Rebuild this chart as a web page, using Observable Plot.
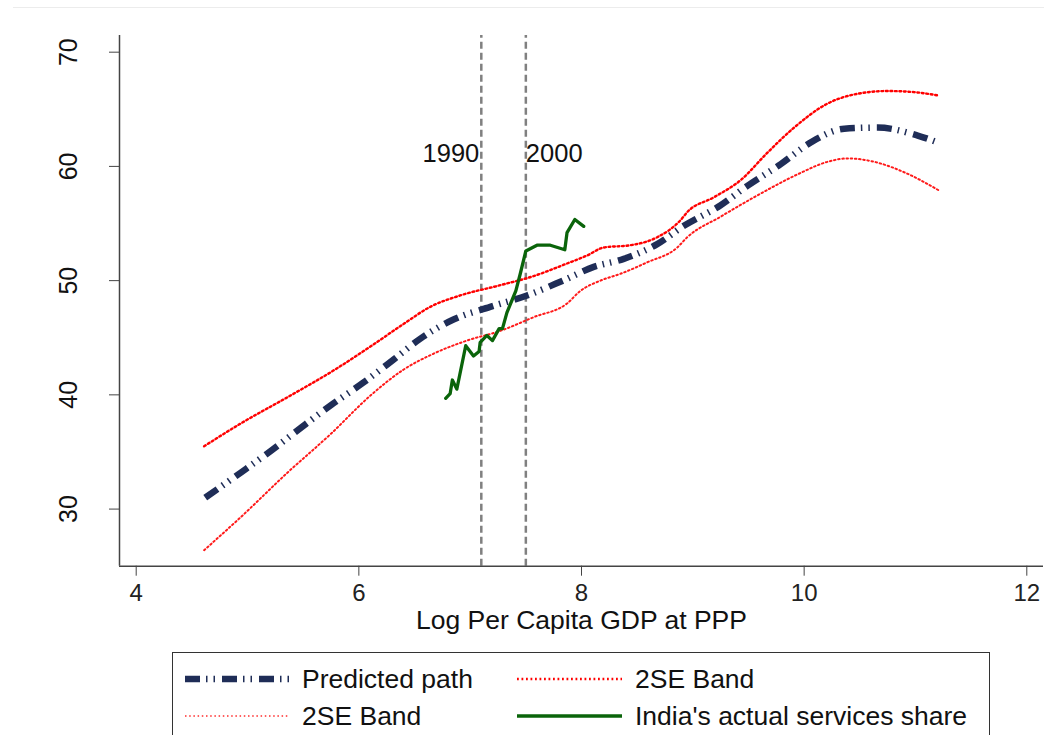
<!DOCTYPE html>
<html><head><meta charset="utf-8">
<script src="https://cdn.jsdelivr.net/npm/d3@7"></script>
<script src="https://cdn.jsdelivr.net/npm/@observablehq/plot@0.6"></script>
<style>
body{margin:0;background:#fff;font-family:"Liberation Sans",Arial,sans-serif;}
#wrap{position:relative;width:1044px;height:735px;overflow:hidden;background:#fff;}
#chart{position:absolute;left:0;top:0;}
#topline{position:absolute;left:13px;top:7px;right:0;border-top:1px solid #ececec;}
#legend{position:absolute;left:172px;top:652px;width:818px;height:120px;border:1.5px solid #333;box-sizing:border-box;}
.item{position:absolute;height:30px;line-height:30px;font-size:26.5px;color:#111;white-space:nowrap;}
.sw{position:absolute;}
</style></head>
<body>
<div id="wrap">
<div id="topline"></div>
<div id="chart"></div>
<div id="legend"></div>
</div>
<script>
// ---- data ----
const predX = [4.62,4.94,5.21,5.49,5.75,6.03,6.30,6.55,6.85,7.18,7.51,7.81,8.11,8.38,8.68,8.92,9.25,9.49,9.79,10.06,10.36,10.66,11.02,11.20];
const predY = [31.0,33.2,35.1,37.2,39.1,41.0,43.0,44.9,46.6,47.7,48.7,49.9,51.2,51.9,53.2,54.8,56.6,58.3,60.2,62.1,63.3,63.4,62.7,62.1];

const upperX = [4.61,4.94,5.36,5.75,6.10,6.40,6.64,6.91,7.27,7.57,7.87,8.05,8.20,8.44,8.68,8.89,8.95,9.19,9.43,9.67,9.91,10.21,10.45,10.75,10.99,11.21];
const upperY = [35.5,37.5,39.8,42.0,44.2,46.2,47.7,48.7,49.6,50.4,51.5,52.2,52.9,53.1,53.8,55.3,56.0,57.3,58.8,61.2,63.4,65.5,66.3,66.6,66.5,66.2];

const lowerX = [4.61,4.94,5.36,5.75,6.10,6.40,6.67,6.97,7.27,7.57,7.87,7.99,8.17,8.35,8.59,8.86,8.95,9.25,9.55,9.94,10.21,10.39,10.63,10.93,11.21];
const lowerY = [26.4,29.3,33.2,36.6,39.9,42.2,43.6,44.75,45.6,46.8,48.0,49.1,50.0,50.6,51.6,52.9,53.8,55.6,57.3,59.3,60.4,60.7,60.4,59.35,57.9];

const indiaX = [6.78,6.82,6.84,6.88,6.96,7.03,7.08,7.09,7.15,7.20,7.26,7.29,7.33,7.41,7.45,7.50,7.60,7.72,7.85,7.87,7.94,8.02];
const indiaY = [39.7,40.1,41.3,40.5,44.3,43.4,43.8,44.6,45.2,44.75,45.8,45.8,47.2,49.1,50.6,52.6,53.1,53.1,52.7,54.2,55.35,54.75];

const yearX = [7.1, 7.5];
const yearLabels = ["1990", "2000"];
const yearLabelY = 61.1;

const xTicks = [4, 6, 8, 10, 12];
const yTicks = [30, 40, 50, 60, 70];
const xTitle = "Log Per Capita GDP at PPP";
const legendLabels = ["Predicted path", "2SE Band", "2SE Band", "India's actual services share"];

// ---- build ----
const zip = (xs, ys) => xs.map((x, i) => ({x, y: ys[i]}));
const pred = zip(predX, predY), upper = zip(upperX, upperY), lower = zip(lowerX, lowerY), india = zip(indiaX, indiaY);
const years = yearX.map((x, i) => ({x, label: yearLabels[i]}));

const xDom = [3.85, 12.15], yDom = [25, 71.46];
const NAVY = "#1f2d57", GREEN = "#0a640a", PRED_DASH = "15,6,1.5,6,1.5,7";
const DOT_UP = "1.8,2.7", DOT_LO = "1.5,2.7";

const chart = Plot.plot({
  width: 1044, height: 645,
  marginLeft: 119, marginRight: 1, marginTop: 35, marginBottom: 79.3,
  x: {domain: xDom}, y: {domain: yDom},
  style: {fontFamily: '"Liberation Sans", Arial, sans-serif', fontSize: "24px", color: "#222", background: "transparent"},
  marks: [
    Plot.ruleX(years, {x: "x", y1: yDom[0], y2: yDom[1], stroke: "#808080", strokeWidth: 2.5, strokeDasharray: "7,4"}),
    Plot.line(upper, {x: "x", y: "y", stroke: "red", strokeWidth: 2.4, strokeDasharray: DOT_UP, curve: "monotone-x"}),
    Plot.line(lower, {x: "x", y: "y", stroke: "#ff1a1a", strokeWidth: 2, strokeDasharray: DOT_LO, curve: "monotone-x"}),
    Plot.line(pred, {x: "x", y: "y", stroke: NAVY, strokeWidth: 6.5, strokeDasharray: PRED_DASH, strokeLinecap: "butt", curve: "monotone-x"}),
    Plot.line(india, {x: "x", y: "y", stroke: GREEN, strokeWidth: 3.3, strokeLinejoin: "round"}),
    Plot.text(years.filter(d => d.label === "1990"), {x: "x", y: () => yearLabelY, text: "label", textAnchor: "end", dx: -2, fontSize: 25.5, fill: "#111"}),
    Plot.text(years.filter(d => d.label === "2000"), {x: "x", y: () => yearLabelY, text: "label", textAnchor: "start", dx: 0, fontSize: 25.5, fill: "#111"}),
    Plot.ruleX([xDom[0]], {y1: yDom[0], y2: yDom[1], stroke: "#444", strokeWidth: 1.5}),
    Plot.ruleY([yDom[0]], {x1: xDom[0], x2: xDom[1], stroke: "#444", strokeWidth: 1.5}),
    Plot.axisX({ticks: xTicks, tickSize: 10, tickPadding: 8, fontSize: 24, label: null, stroke: "#444"}),
    Plot.axisY({ticks: yTicks, tickSize: 10, tickFormat: () => "", label: null, stroke: "#444"}),
    Plot.text(yTicks, {y: d => d, text: d => String(d), frameAnchor: "left", dx: -51, rotate: -90, textAnchor: "middle", fontSize: 25, fill: "#111"}),
    Plot.text([xTitle], {frameAnchor: "bottom", dy: 63, text: d => d, fontSize: 26.5, fill: "#111"})
  ]
});
document.getElementById("chart").appendChild(chart);

// ---- legend (HTML) ----
const wrap = document.getElementById("wrap");
const items = [
  {sx: 185, tx: 302, cy: 679, label: legendLabels[0], stroke: NAVY, w: 6.5, dash: PRED_DASH},
  {sx: 517, tx: 635, cy: 679, label: legendLabels[1], stroke: "red", w: 2.4, dash: DOT_UP},
  {sx: 185, tx: 302, cy: 716, label: legendLabels[2], stroke: "#ff6060", w: 2, dash: DOT_LO},
  {sx: 517, tx: 635, cy: 716, label: legendLabels[3], stroke: GREEN, w: 3.3, dash: null}
];
for (const it of items) {
  const ns = "http://www.w3.org/2000/svg";
  const svg = document.createElementNS(ns, "svg");
  svg.setAttribute("width", 105); svg.setAttribute("height", 20);
  svg.setAttribute("class", "sw");
  svg.style.left = it.sx + "px"; svg.style.top = (it.cy - 10) + "px";
  const ln = document.createElementNS(ns, "line");
  ln.setAttribute("x1", 0); ln.setAttribute("x2", 105); ln.setAttribute("y1", 10); ln.setAttribute("y2", 10);
  ln.setAttribute("stroke", it.stroke); ln.setAttribute("stroke-width", it.w);
  if (it.dash) ln.setAttribute("stroke-dasharray", it.dash);
  svg.appendChild(ln);
  wrap.appendChild(svg);
  const t = document.createElement("div");
  t.className = "item"; t.textContent = it.label;
  t.style.left = it.tx + "px"; t.style.top = (it.cy - 15) + "px";
  wrap.appendChild(t);
}
</script>
</body></html>
